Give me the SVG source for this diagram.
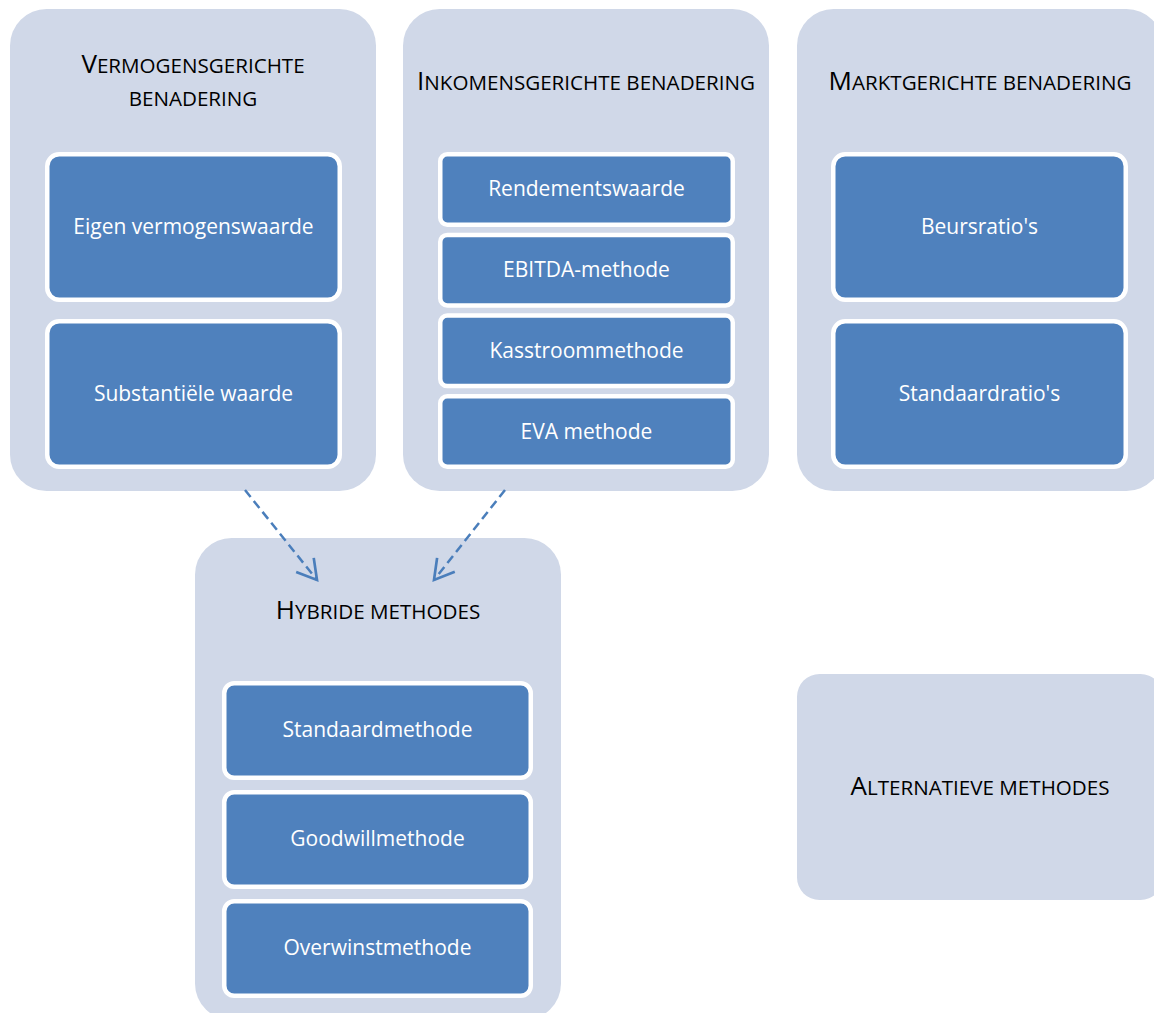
<svg xmlns="http://www.w3.org/2000/svg" width="1154" height="1013" viewBox="0 0 1154 1013">
<style>
.cont{fill:#D0D8E8;}
.node{fill:#4F81BD;stroke:#FFFFFF;stroke-width:4.5;}
.hdr{font-family:"Open Sans","Liberation Sans",sans-serif;fill:#000000;text-anchor:middle;font-size:20.6px;}
.big{font-size:26px;}
.lbl{font-family:"Open Sans","Liberation Sans",sans-serif;fill:#FFFFFF;text-anchor:middle;font-size:21px;}
.conn{fill:none;stroke:#4A7EBB;stroke-width:2.5;stroke-dasharray:9 5;}
</style>
<defs>
<marker id="arr" markerUnits="userSpaceOnUse" markerWidth="30" markerHeight="30" viewBox="-22 -14 26 28" refX="0" refY="0" orient="auto" overflow="visible">
<path d="M-18,-10.5 L0,0 L-18,10.5" fill="none" stroke="#4A7EBB" stroke-width="2.5"/>
</marker>
</defs>
<rect width="1154" height="1013" fill="#FFFFFF"/>

<g id="vermogen">
<rect class="cont" x="10" y="9" width="366" height="482" rx="36.6"/>
<text class="hdr" x="193" y="73"><tspan class="big">V</tspan>ERMOGENSGERICHTE</text>
<text class="hdr" x="193" y="106">BENADERING</text>
</g>
<g id="eigen">
<rect class="node" x="47.25" y="154.25" width="292.5" height="145.5" rx="12"/>
<text class="lbl" x="193.5" y="234">Eigen vermogenswaarde</text>
</g>
<g id="substantiele">
<rect class="node" x="47.25" y="321.25" width="292.5" height="145.5" rx="12"/>
<text class="lbl" x="193.5" y="401">Substantiële waarde</text>
</g>

<g id="inkomen">
<rect class="cont" x="403" y="9" width="366" height="482" rx="36.6"/>
<text class="hdr" x="586" y="90"><tspan class="big">I</tspan>NKOMENSGERICHTE BENADERING</text>
</g>
<g id="rendement">
<rect class="node" x="440.25" y="154.25" width="292.5" height="70.5" rx="7"/>
<text class="lbl" x="586.5" y="196">Rendementswaarde</text>
</g>
<g id="ebitda">
<rect class="node" x="440.25" y="234.9" width="292.5" height="70.5" rx="7"/>
<text class="lbl" x="586.5" y="277">EBITDA-methode</text>
</g>
<g id="kasstroom">
<rect class="node" x="440.25" y="315.6" width="292.5" height="70.5" rx="7"/>
<text class="lbl" x="586.5" y="358">Kasstroommethode</text>
</g>
<g id="eva">
<rect class="node" x="440.25" y="396.25" width="292.5" height="70.5" rx="7"/>
<text class="lbl" x="586.5" y="439">EVA methode</text>
</g>

<g id="markt">
<rect class="cont" x="797" y="9" width="366" height="482" rx="36.6"/>
<text class="hdr" x="980" y="90"><tspan class="big">M</tspan>ARKTGERICHTE BENADERING</text>
</g>
<g id="beurs">
<rect class="node" x="833.25" y="154.25" width="292.5" height="145.5" rx="12"/>
<text class="lbl" x="979.5" y="234">Beursratio's</text>
</g>
<g id="standaardratio">
<rect class="node" x="833.25" y="321.25" width="292.5" height="145.5" rx="12"/>
<text class="lbl" x="979.5" y="401">Standaardratio's</text>
</g>

<g id="hybride">
<rect class="cont" x="195" y="538" width="366" height="482" rx="36.6"/>
<text class="hdr" x="378" y="619"><tspan class="big">H</tspan>YBRIDE METHODES</text>
</g>
<g id="standaardmethode">
<rect class="node" x="224.25" y="683.25" width="306.5" height="94.5" rx="10"/>
<text class="lbl" x="377.5" y="737">Standaardmethode</text>
</g>
<g id="goodwill">
<rect class="node" x="224.25" y="792.25" width="306.5" height="94.5" rx="10"/>
<text class="lbl" x="377.5" y="846">Goodwillmethode</text>
</g>
<g id="overwinst">
<rect class="node" x="224.25" y="901.25" width="306.5" height="94.5" rx="10"/>
<text class="lbl" x="377.5" y="955">Overwinstmethode</text>
</g>

<g id="alternatief">
<rect class="cont" x="797" y="674" width="366" height="226" rx="22.6"/>
<text class="hdr" x="980" y="795"><tspan class="big">A</tspan>LTERNATIEVE METHODES</text>
</g>

<g id="connectors">
<line class="conn" x1="245" y1="490" x2="317" y2="580" marker-end="url(#arr)"/>
<line class="conn" x1="505" y1="490" x2="434" y2="580" marker-end="url(#arr)"/>
</g>
</svg>
